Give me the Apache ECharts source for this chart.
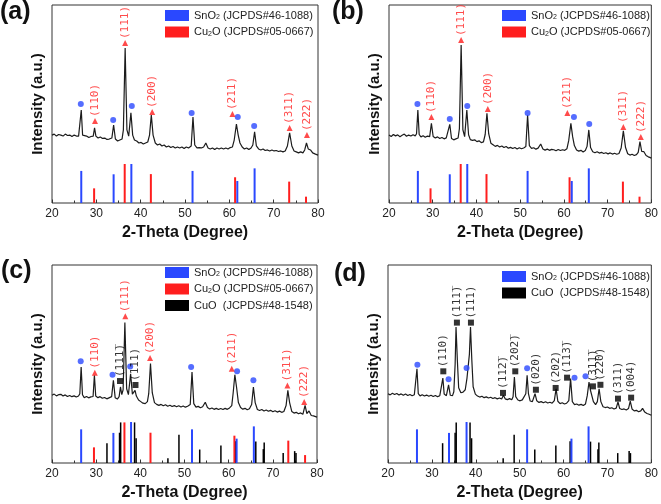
<!DOCTYPE html>
<html><head><meta charset="utf-8">
<script src="https://cdn.jsdelivr.net/npm/echarts@6/dist/echarts.min.js"></script>
<style>html,body{margin:0;padding:0;background:#fff}#c{width:661px;height:504px}</style>
</head><body><div id="c"></div>
<script>
// ---------- measured XRD traces [2theta, intensity] ----------
const traceA = [[20.0,34.3],[20.5,34.8],[21.0,33.8],[21.5,34.6],[22.0,34.3],[22.5,33.8],[23.0,34.8],[23.5,34.1],[24.0,34.3],[24.5,33.6],[25.0,34.3],[25.5,33.8],[26.0,33.8],[26.3,34.8],[26.6,47.0],[26.9,34.3],[27.3,33.3],[27.8,33.8],[28.3,33.1],[28.8,33.6],[29.3,33.8],[29.6,37.9],[29.9,33.8],[30.4,32.8],[30.9,33.3],[31.4,32.6],[31.9,32.8],[32.4,32.1],[32.9,32.3],[33.5,32.8],[33.9,39.4],[34.3,32.3],[34.8,31.3],[35.3,31.8],[35.8,32.3],[36.1,36.9],[36.5,78.3],[36.9,36.9],[37.3,33.8],[37.8,45.5],[38.2,34.3],[38.6,31.8],[39.1,31.3],[39.6,30.3],[40.1,30.6],[40.6,29.8],[41.1,30.3],[41.6,30.8],[42.0,34.3],[42.4,44.4],[42.8,34.3],[43.3,30.3],[43.8,29.3],[44.3,29.8],[44.8,28.8],[45.3,29.3],[45.8,28.3],[46.3,28.8],[46.8,28.0],[47.3,28.5],[47.8,27.8],[48.3,28.3],[48.8,27.8],[49.3,28.3],[49.8,27.5],[50.3,28.3],[50.8,27.8],[51.4,28.8],[51.8,43.4],[52.2,29.3],[52.7,27.8],[53.2,28.0],[53.7,27.8],[54.2,28.3],[54.7,30.3],[55.2,27.8],[55.7,27.3],[56.2,27.8],[56.7,27.0],[57.2,27.8],[57.7,27.3],[58.2,27.8],[58.7,27.3],[59.2,27.8],[59.7,27.3],[60.2,28.0],[60.7,28.3],[61.1,31.8],[61.6,39.9],[62.0,34.3],[62.4,30.3],[62.9,28.3],[63.4,27.3],[63.9,27.8],[64.4,27.0],[64.9,27.8],[65.3,29.3],[65.7,35.9],[66.1,28.8],[66.6,27.3],[67.1,26.8],[67.6,27.3],[68.1,26.5],[68.6,26.8],[69.1,26.3],[69.6,26.8],[70.1,26.3],[70.6,26.5],[71.1,26.0],[71.6,26.3],[72.1,25.8],[72.6,26.3],[73.1,28.8],[73.6,35.4],[74.1,28.8],[74.6,26.3],[75.1,25.8],[75.6,25.3],[76.1,25.8],[76.6,25.3],[77.0,26.8],[77.4,30.3],[77.8,27.3],[78.3,26.8],[78.8,25.3],[79.3,24.8],[80.0,24.2]];
const traceB = [[20.0,34.3],[20.5,33.6],[21.0,34.6],[21.5,33.9],[22.0,34.4],[22.5,33.5],[23.0,34.2],[23.5,34.8],[24.0,33.7],[24.5,34.3],[25.0,33.8],[25.5,34.5],[26.0,33.9],[26.3,35.0],[26.6,47.0],[26.9,34.6],[27.3,33.4],[27.8,34.0],[28.3,33.2],[28.8,33.8],[29.3,33.5],[29.7,40.2],[30.1,33.6],[30.6,32.8],[31.1,33.4],[31.6,32.6],[32.1,33.1],[32.6,32.4],[33.1,32.9],[33.5,33.2],[33.9,39.7],[34.3,32.6],[34.8,31.9],[35.3,32.4],[35.8,32.8],[36.1,37.5],[36.5,79.8],[36.9,37.0],[37.3,33.5],[37.8,47.0],[38.2,34.5],[38.6,32.0],[39.1,31.6],[39.6,31.9],[40.1,31.0],[40.6,31.4],[41.1,30.5],[41.6,30.9],[42.0,34.6],[42.4,45.3],[42.8,35.0],[43.3,30.2],[43.8,29.4],[44.3,28.6],[44.8,29.1],[45.3,28.3],[45.8,28.8],[46.3,28.0],[46.8,28.5],[47.3,27.7],[47.8,28.1],[48.3,27.5],[48.8,28.0],[49.3,27.3],[49.8,27.9],[50.3,27.4],[50.8,27.8],[51.3,28.5],[51.7,44.4],[52.1,29.0],[52.6,27.6],[53.1,27.9],[53.6,27.2],[54.1,27.7],[54.7,29.8],[55.2,27.3],[55.7,26.7],[56.2,27.2],[56.7,26.6],[57.2,27.1],[57.7,26.9],[58.2,26.4],[58.7,27.0],[59.2,26.5],[59.7,26.9],[60.2,26.6],[60.7,27.4],[61.1,31.5],[61.6,40.2],[62.0,33.5],[62.4,29.0],[62.9,26.8],[63.4,26.2],[63.9,26.6],[64.4,25.8],[64.9,26.5],[65.3,28.6],[65.7,36.9],[66.1,28.0],[66.6,25.9],[67.1,25.4],[67.6,25.9],[68.1,25.2],[68.6,25.6],[69.1,25.0],[69.6,25.4],[70.1,24.8],[70.6,25.3],[71.1,24.7],[71.6,25.1],[72.1,24.6],[72.6,25.0],[73.1,27.8],[73.6,36.4],[74.1,28.0],[74.6,24.9],[75.1,24.2],[75.6,24.6],[76.1,24.0],[76.6,24.4],[77.0,25.6],[77.4,31.0],[77.8,26.0],[78.3,25.9],[78.8,24.0],[79.3,23.3],[79.8,22.9],[80.0,22.6]];
const traceC = [[20.0,34.2],[20.5,34.8],[21.0,33.9],[21.5,34.5],[22.0,34.7],[22.5,33.8],[23.0,34.4],[23.5,33.6],[24.0,34.1],[24.5,33.5],[25.0,33.9],[25.5,33.3],[26.0,33.8],[26.3,35.0],[26.6,48.5],[26.9,34.5],[27.3,33.0],[27.8,33.6],[28.3,32.9],[28.8,33.4],[29.3,33.6],[29.6,44.3],[29.9,33.8],[30.4,33.0],[30.9,33.5],[31.4,32.7],[31.9,33.1],[32.4,32.4],[32.9,32.9],[33.5,33.5],[33.9,41.8],[34.3,33.0],[34.8,32.3],[35.2,33.5],[35.5,38.4],[35.8,34.5],[36.1,37.0],[36.5,71.0],[36.9,37.5],[37.3,34.5],[37.8,45.1],[38.2,34.8],[38.5,34.0],[38.8,36.7],[39.1,33.8],[39.6,31.8],[40.1,31.0],[40.6,30.2],[41.1,30.0],[41.6,31.0],[41.9,35.0],[42.3,50.2],[42.7,35.5],[43.2,30.5],[43.7,29.6],[44.2,29.1],[44.7,29.6],[45.2,28.9],[45.7,29.4],[46.2,28.7],[46.7,29.2],[47.2,28.5],[47.7,29.0],[48.2,28.4],[48.7,28.9],[49.2,28.3],[49.7,28.8],[50.2,28.2],[50.7,28.7],[51.3,29.6],[51.7,46.0],[52.1,30.0],[52.6,28.2],[53.1,28.6],[53.6,27.9],[54.1,28.4],[54.7,30.7],[55.2,28.0],[55.7,27.3],[56.2,27.8],[56.7,27.1],[57.2,27.6],[57.7,27.0],[58.2,27.5],[58.7,27.0],[59.2,27.6],[59.7,27.1],[60.2,27.8],[60.7,29.0],[61.0,35.0],[61.4,44.6],[61.8,38.0],[62.2,30.5],[62.7,28.0],[63.2,27.2],[63.7,27.6],[64.2,26.9],[64.7,27.4],[65.2,29.5],[65.6,38.4],[66.0,30.5],[66.5,27.0],[67.0,26.5],[67.5,27.0],[68.0,26.3],[68.5,26.8],[69.0,26.1],[69.5,26.6],[70.0,25.9],[70.5,26.4],[71.0,25.7],[71.5,26.2],[72.0,25.6],[72.5,26.0],[73.0,29.0],[73.4,36.7],[73.8,30.5],[74.3,26.0],[74.8,25.2],[75.3,25.6],[75.8,24.9],[76.3,25.3],[76.8,24.6],[77.3,29.1],[77.7,25.0],[78.2,26.3],[78.7,24.0],[79.2,23.8],[79.6,23.4],[80.0,23.2]];
const traceD = [[20.0,35.0],[20.5,34.4],[21.0,35.2],[21.5,34.6],[22.0,35.1],[22.5,34.3],[23.0,34.9],[23.5,34.2],[24.0,34.8],[24.5,34.1],[25.0,34.6],[25.5,34.0],[26.0,34.5],[26.3,35.5],[26.6,47.6],[26.9,35.0],[27.3,33.9],[27.8,34.5],[28.3,33.8],[28.8,34.3],[29.3,33.7],[29.8,34.2],[30.3,33.6],[30.8,34.1],[31.3,33.5],[31.8,34.0],[32.2,34.8],[32.5,42.9],[32.8,34.8],[33.3,34.0],[33.8,39.5],[34.2,34.2],[34.7,34.0],[35.0,36.0],[35.3,50.0],[35.5,68.7],[35.8,52.0],[36.1,38.0],[36.6,35.5],[37.1,35.8],[37.6,37.0],[38.0,42.9],[38.3,42.0],[38.55,55.0],[38.8,68.7],[39.1,52.0],[39.4,38.5],[39.9,34.8],[40.4,33.8],[40.9,33.3],[41.4,33.7],[41.9,33.0],[42.4,33.4],[42.9,32.8],[43.4,33.2],[43.9,32.6],[44.4,33.0],[44.9,32.4],[45.4,32.8],[45.9,32.3],[46.3,34.2],[46.7,32.4],[47.2,32.0],[47.7,32.5],[48.2,31.9],[48.5,33.5],[48.8,43.4],[49.1,33.5],[49.6,31.8],[50.1,31.4],[50.6,31.9],[51.0,31.8],[51.4,35.0],[51.7,44.3],[52.0,35.0],[52.4,31.3],[52.9,31.0],[53.5,35.0],[53.9,31.4],[54.4,30.6],[54.9,31.0],[55.4,30.4],[55.9,30.9],[56.4,30.3],[56.9,30.7],[57.4,30.2],[57.9,31.5],[58.3,37.5],[58.7,31.2],[59.2,30.0],[59.7,30.4],[60.2,29.8],[60.7,30.2],[61.2,31.5],[61.6,42.6],[62.0,31.0],[62.5,29.5],[63.0,29.8],[63.5,29.2],[64.0,29.6],[64.5,29.0],[65.0,29.8],[65.4,34.0],[65.8,40.9],[66.1,37.0],[66.4,37.5],[66.8,31.0],[67.3,29.5],[67.7,31.0],[68.1,37.5],[68.5,31.0],[69.0,28.4],[69.5,28.0],[70.0,28.3],[70.5,27.6],[71.0,27.9],[71.5,27.3],[72.0,27.7],[72.4,30.8],[72.8,27.5],[73.3,27.0],[73.8,27.3],[74.3,26.8],[74.8,27.5],[75.2,31.2],[75.6,27.3],[76.1,26.3],[76.6,26.6],[77.1,25.9],[77.6,26.3],[78.0,27.6],[78.5,25.7],[79.0,25.0],[79.5,24.6],[80.0,24.1]];

// ---------- JCPDS reference sticks ----------
const phaseNames = ['SnO2 (JCPDS#46-1088)', 'Cu2O (JCPDS#05-0667)', 'CuO  (JCPDS#48-1548)'];
const sno2Pos  = [26.6, 33.9, 37.9, 51.7, 61.8, 65.7];
const sno2HTop = [16.2, 14.5, 19.7, 16.2, 11.1, 17.5];
const sno2HBot = [17.0, 15.2, 20.7, 17.0, 12.3, 18.5];
const cu2oPos  = [29.5, 36.4, 42.3, 61.3, 73.5, 77.3];
const cu2oHTop = [7.4, 19.7, 14.6, 13.0, 10.8, 3.2];
const cu2oHBot = [7.9, 20.5, 15.3, 13.8, 11.3, 4.0];
const cuoPos = [32.5, 35.35, 35.6, 38.75, 39.1, 46.3, 48.8, 53.5, 58.3, 61.55, 66.2, 67.9, 68.1, 72.4, 75.0, 75.3];
const cuoH   = [10.0, 15.3, 20.5, 20.5, 12.5, 2.4, 14.3, 6.8, 8.8, 11.0, 10.8, 7.0, 10.4, 5.0, 6.0, 5.0];

// ---------- peak markers [2theta, height] and labels ----------
const cu2oLabels = ['(110)', '(111)', '(200)', '(211)', '(311)', '(222)'];
const sno2MarkA = [[26.5,50.0],[33.8,41.9],[38.0,49.0],[51.5,45.5],[61.9,43.4],[65.6,38.9]];
const cu2oMarkA = [[29.7,41.4],[36.5,80.8],[42.6,46.0],[60.7,44.9],[73.6,37.9],[77.5,34.3]];
const sno2MarkB = [[26.5,50.0],[33.9,42.4],[37.9,49.0],[51.7,45.5],[62.3,43.4],[65.8,39.9]];
const cu2oMarkB = [[29.7,43.4],[36.5,82.3],[42.6,47.5],[60.8,45.5],[73.6,38.4],[77.6,33.3]];
const sno2MarkC = [[26.5,51.4],[33.7,44.6],[37.7,48.8],[51.5,48.5],[61.9,46.3],[65.6,41.8]];
const cu2oMarkC = [[29.7,45.6],[36.6,74.1],[42.2,53.0],[60.7,47.6],[73.3,39.2],[77.1,30.8]];
const cuoMarkC = [[35.4,41.4],[38.9,39.4]];
const cuoLabelsC = ['(111\u0305)', '(111)'];
const sno2MarkD = [[26.7,49.6],[33.8,42.3],[37.9,48.0],[51.7,47.8],[62.5,43.1],[65.0,43.8]];
const cuoMarkD = [[32.6,46.3],[35.7,70.9],[38.9,70.9],[46.2,35.4],[49.0,46.3],[53.7,37.0],[58.2,37.9],[60.8,43.1],[66.7,38.7],[68.4,39.5],[72.4,32.5],[75.4,33.0]];
const cuoLabelsD = ['(110)', '(111\u0305)', '(111)', '(112\u0305)', '(202\u0305)', '(020)', '(202)', '(113\u0305)', '(311\u0305)', '(220)', '(311)', '(004)'];
const panelLabels = ['(a)', '(b)', '(c)', '(d)'];

// ---------- styling ----------
const BLUE = '#2a48ff', RED = '#ff1e1e', BLACK = '#000000';
const FONT = 'Liberation Sans';
const MONO = 'DejaVu Sans Mono';
const grids = [
  {left: 52, top: 5, width: 266, height: 198},
  {left: 389, top: 5, width: 264, height: 198},
  {left: 52, top: 265, width: 265, height: 198},
  {left: 388, top: 265, width: 265, height: 198}
];
const legendPos = [{left: 165, top: 10}, {left: 502, top: 10}, {left: 165, top: 267}, {left: 502, top: 271}];
const titlePos = [{left: 0, top: 0}, {left: 332, top: 0}, {left: 1, top: 259}, {left: 334, top: 262}];

function richName(name) {
  const m = name.match(/^([A-Za-z]+?)(2?)([A-Za-z]*)(\s.*)$/);
  if (!m) return '{n|' + name + '}';
  return '{n|' + m[1] + '}' + (m[2] ? '{s|' + m[2] + '}' : '') + '{n|' + m[3] + m[4] + '}';
}
function sticks(name, pos, h, color, w, gi) {
  return {type: 'bar', name: name, xAxisIndex: gi, yAxisIndex: gi, barWidth: w, barGap: '-100%',
    itemStyle: {color: color}, silent: true, z: 3, data: pos.map((x, i) => [x, h[i]])};
}
function marks(pts, symbol, color, labels, labelColor, gi, size) {
  return {type: 'scatter', xAxisIndex: gi, yAxisIndex: gi, symbol: symbol, symbolSize: size,
    itemStyle: {color: color}, silent: true, z: 5,
    label: labels ? {show: true, position: 'top', distance: 1, rotate: 90, align: 'left', verticalAlign: 'middle',
      formatter: '{b}', fontFamily: MONO, fontSize: 11, color: labelColor} : {show: false},
    data: pts.map((p, i) => ({name: labels ? labels[i] : '', value: p}))};
}
function trace(data, gi) {
  return {type: 'line', xAxisIndex: gi, yAxisIndex: gi, data: data, symbol: 'none', silent: true,
    lineStyle: {color: '#1c1c1c', width: 1.2}, z: 2};
}

const series = [
  trace(traceA, 0),
  sticks(phaseNames[1], cu2oPos, cu2oHTop, RED, 2, 0),
  sticks(phaseNames[0], sno2Pos, sno2HTop, BLUE, 2, 0),
  marks(sno2MarkA, 'circle', BLUE, null, null, 0, 6),
  marks(cu2oMarkA, 'triangle', RED, cu2oLabels, RED, 0, 6),

  trace(traceB, 1),
  sticks(phaseNames[1], cu2oPos, cu2oHTop, RED, 2, 1),
  sticks(phaseNames[0], sno2Pos, sno2HTop, BLUE, 2, 1),
  marks(sno2MarkB, 'circle', BLUE, null, null, 1, 6),
  marks(cu2oMarkB, 'triangle', RED, cu2oLabels, RED, 1, 6),

  trace(traceC, 2),
  sticks(phaseNames[2], cuoPos, cuoH, BLACK, 1.5, 2),
  sticks(phaseNames[1], cu2oPos, cu2oHBot, RED, 2, 2),
  sticks(phaseNames[0], sno2Pos, sno2HBot, BLUE, 2, 2),
  marks(sno2MarkC, 'circle', BLUE, null, null, 2, 6),
  marks(cu2oMarkC, 'triangle', RED, cu2oLabels, RED, 2, 6),
  marks(cuoMarkC, 'rect', BLACK, cuoLabelsC, BLACK, 2, 6),

  trace(traceD, 3),
  sticks(phaseNames[2], cuoPos, cuoH, BLACK, 1.5, 3),
  sticks(phaseNames[0], sno2Pos, sno2HBot, BLUE, 2, 3),
  marks(sno2MarkD, 'circle', BLUE, null, null, 3, 6),
  marks(cuoMarkD, 'rect', BLACK, cuoLabelsD, BLACK, 3, 6)
];

const legendData = [[phaseNames[0], phaseNames[1]], [phaseNames[0], phaseNames[1]],
  [phaseNames[0], phaseNames[1], phaseNames[2]], [phaseNames[0], phaseNames[2]]];

const option = {
  animation: false,
  backgroundColor: '#ffffff',
  title: panelLabels.map((t, i) => ({text: t, left: titlePos[i].left, top: titlePos[i].top, padding: 0,
    textStyle: {fontFamily: FONT, fontSize: 25, fontWeight: 'bold', color: '#111'}})),
  grid: grids.map(g => Object.assign({show: true, borderColor: '#333', borderWidth: 1, containLabel: false}, g)),
  legend: legendData.map((d, i) => ({data: d, orient: 'vertical', left: legendPos[i].left, top: legendPos[i].top,
    padding: 0, itemWidth: 24, itemHeight: 11, itemGap: 5.5, icon: 'rect', selectedMode: false,
    formatter: richName,
    textStyle: {fontFamily: FONT, fontSize: 11, color: '#222', lineHeight: 11,
      rich: {n: {fontFamily: FONT, fontSize: 11, color: '#222', lineHeight: 11},
             s: {fontFamily: FONT, fontSize: 7, color: '#222', lineHeight: 7, verticalAlign: 'bottom'}}}})),
  xAxis: grids.map((g, i) => ({gridIndex: i, type: 'value', min: 20, max: 80, interval: 10,
    axisLine: {show: false}, splitLine: {show: false},
    axisTick: {show: true, inside: true, length: 3.5, lineStyle: {color: '#333'}},
    minorTick: {show: true, splitNumber: 2, length: 2.5, lineStyle: {color: '#333'}},
    axisLabel: {margin: 5, fontFamily: FONT, fontSize: 12, color: '#222'},
    name: '2-Theta (Degree)', nameLocation: 'middle', nameGap: 22,
    nameTextStyle: {fontFamily: FONT, fontSize: 16, fontWeight: 'bold', color: '#111'}})),
  yAxis: grids.map((g, i) => ({gridIndex: i, type: 'value', min: 0, max: 100,
    axisLine: {show: false}, axisTick: {show: false}, axisLabel: {show: false}, splitLine: {show: false},
    name: 'Intensity (a.u.)', nameLocation: 'middle', nameGap: 7,
    nameTextStyle: {fontFamily: FONT, fontSize: 15, fontWeight: 'bold', color: '#111'}})),
  series: series
};
const chart = echarts.init(document.getElementById('c'), null, {renderer: 'canvas'});
chart.setOption(option);
</script></body></html>
